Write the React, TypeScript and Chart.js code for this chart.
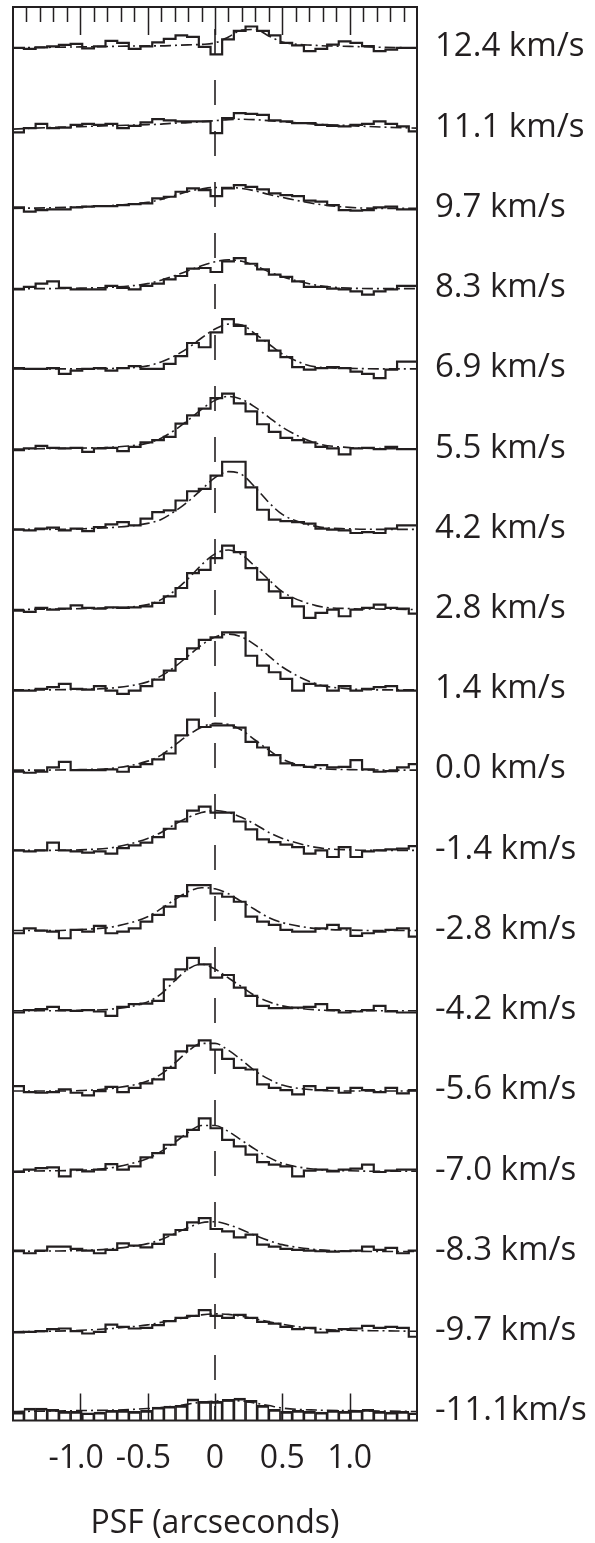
import React, { useEffect, useRef } from 'react';
import { Chart, registerables } from 'chart.js';

Chart.register(...registerables);

const INK = '#231f20';
const FONT = "'Open Sans'";

// Velocity channel labels, top to bottom
const velocityLabels = [
  '12.4 km/s', '11.1 km/s', '9.7 km/s', '8.3 km/s', '6.9 km/s', '5.5 km/s',
  '4.2 km/s', '2.8 km/s', '1.4 km/s', '0.0 km/s', '-1.4 km/s', '-2.8 km/s',
  '-4.2 km/s', '-5.6 km/s', '-7.0 km/s', '-8.3 km/s', '-9.7 km/s', '-11.1km/s',
];

// Bin edges of the spatial profiles (arcseconds)
const binEdges = [
  -1.505, -1.419, -1.332, -1.246, -1.159, -1.072, -0.986, -0.899, -0.813, -0.726,
  -0.640, -0.553, -0.466, -0.380, -0.293, -0.207, -0.120, -0.033, 0.053, 0.140,
  0.227, 0.313, 0.400, 0.486, 0.573, 0.660, 0.746, 0.833, 0.919, 1.006,
  1.092, 1.179, 1.266, 1.352, 1.439, 1.525,
];

// Sample positions of the fitted (dash-dot) profiles
const fitX = [-1.5, -1.25, -1.0, -0.75, -0.5, -0.4, -0.3, -0.2, -0.1, 0, 0.1, 0.2, 0.3, 0.4, 0.5, 0.75, 1.0, 1.25, 1.5];

// Measured profiles (relative flux per bin)
const flux12_4 = [0, -1, 0.5, 1.5, 3, 4, -0.5, 1.5, 7, 5, -1, 1.5, 5.5, 9, 12.5, 11, 1, -6.5, 8.5, 17, 21.5, 17, 12.5, 5, 2.5, -3.3, -1, 3.3, 6.5, 5, 1.7, -3.3, -1.7, 0, 0];
const flux11_1 = [-4.3, 0, 4.3, 0, 0.5, 3.3, 4.3, 3.3, 4.3, 0, 2.3, 5.7, 9, 7.7, 6.7, 6.7, 6.7, -5, 10, 15, 14.3, 13.3, 7.7, 6.7, 5, 5, 3.3, 2.3, 1.7, 3.3, 4.3, 6.7, 4.3, 1.7, -3.3];
const flux9_7 = [1, -3.3, -1.7, -1, -1, 1, 1.7, 2.3, 2.3, 3.3, 4.3, 5, 10, 11.7, 16.7, 20, 18.3, 12.3, 20, 23.3, 21.7, 19, 15, 13.3, 12.3, 7.7, 6.7, 3.3, -1.7, -2.3, -1.7, 1, 1.7, -1, -1];
const flux8_3 = [-0.7, 1.7, 5, 7.3, 0.7, -0.7, -0.7, -0.7, 2.7, 0.7, -0.7, 2.7, 5, 9.3, 12.7, 20, 20.7, 16.7, 27.3, 30.7, 25, 19.3, 14, 11.7, 7.3, 1.7, 1.7, 0, -0.7, -2.7, -6, -2.7, -0.7, 2.7, 2.7];
const flux6_9 = [0.7, 0, 0, 0.7, -5, -1.7, 0, 0.7, -1.7, 0.7, 2.7, 0, 0, 5, 12.7, 26, 21.7, 36.7, 50, 43.3, 35, 28.3, 18.3, 11.7, 1.7, -0.7, 0.7, 1.7, 0.7, -2.7, -5, -9.3, -0.7, 7.3, 7.3];
const flux5_5 = [-1, 0.7, 3.3, 1.3, 0.7, 1.3, -2.7, 0.7, 1.3, -2, 2.3, 6.7, 9, 12.3, 25.7, 34, 40.7, 51.3, 55.7, 46, 38, 25, 17.3, 11.3, 9, 6.7, 2.3, 0.7, -5.3, 0.7, 1.3, 0, 2.3, 0, 0];
const flux4_2 = [-0.3, -1, 0.7, 1.7, -1, 0.7, -1.7, 2.3, 5, 7.3, 4, 10.7, 17.3, 19, 29, 38.3, 40.7, 54, 68, 68, 42.3, 19.7, 9.7, 8.3, 7.3, 5.7, 0.7, -0.3, -1, -3.7, -2.7, -3.7, 0.7, 4, 4];
const flux2_8 = [-1, -2.3, 1.7, 0, 1, 4.3, 1.7, 1, 2.3, 1.7, 2.3, 3.3, 6.7, 13.3, 21.7, 36.7, 40, 51.7, 64.3, 57.7, 41.7, 30, 18.3, 11.7, 3.3, -8.3, -3.3, 0, -6.7, 0, 1.7, 5, 1.7, 1, -4];
const flux1_4 = [-0.7, -0.7, 1, 2.7, 6, 1, 0.3, 3.7, -0.7, -4, -0.7, 3.7, 10.3, 19.3, 31, 41.7, 50.3, 52.7, 57.7, 57.7, 34.3, 24.3, 17.7, 11, -0.7, 6, 4.3, -0.7, 3.7, -0.7, 1, 2.7, 3.7, -0.7, -0.7];
const flux0_0 = [-1.7, -2.7, -1.7, 2.7, 8.3, 0, 0, 0, 0.7, -1.7, 3.3, 6, 10.7, 16.7, 35, 50.7, 43.3, 45, 45, 42.7, 28.3, 22.7, 15, 6.7, 5, 3.3, 5, 2.7, 3.3, 10, 0.7, -1.7, -1, 2.7, 6];
const fluxM1_4 = [0, -1, 0, 7.7, 0, -1, -2.3, -1, -3.3, 2.3, 5, 7.7, 13.3, 21.7, 29, 40, 44, 38, 38, 29, 21, 11, 8.3, 5.7, 3.3, -3.3, 0, -6.7, 3.3, -6.7, -1, 0, 1, 1.7, 4.3];
const fluxM2_8 = [-2.7, 2.3, 0, -1, -7.7, 0.7, -1, 4.7, -2.7, -1, 2.3, 9, 15.7, 24, 34.7, 45.7, 45.7, 37.3, 34, 29, 14, 9, 5.7, 0.7, -1, -1, 2.3, 5.7, 2.3, -5.3, -2.7, -1, 0.7, 2.3, -6];
const fluxM4_2 = [-1.7, 0.7, 1.7, 4, 0.7, 0, 0.7, -0.7, -5, 4, 6.7, 7.3, 10, 31.7, 41.7, 53.3, 46.7, 33.3, 36, 23.3, 15, 5, 2.7, 2.7, 3.3, 4, 6.7, 0.7, -1.7, -0.7, 0.7, 5, -0.7, -1.7, -1.7];
const fluxM5_6 = [5, -1, -1.7, -1, 1.7, -1.7, -4.3, 0, 4.3, -1, 3.3, 7.7, 11.7, 23.3, 40, 45.7, 51, 41.7, 32.3, 23.3, 21.7, 6.7, 3.3, 1, -3.3, 5, 1, 3.3, -1.7, 3.3, 1, -1, 3.3, -2.3, 1];
const fluxM7_0 = [-0.7, 1.7, 3.3, 4, -5, 1.7, 0, 1.7, 7.3, 1.7, 5, 14, 18.3, 26.7, 35, 41.7, 53.3, 43.3, 31.7, 25, 16.7, 9.3, 6.7, 5, -5, 0.7, 1.7, 0, 1.7, 2.7, 6.7, -0.7, 0.7, 1.7, 1.7];
const fluxM8_3 = [1, -1.7, 1, 5, 5, 2.7, 1, -1.7, 1.7, 8.3, 6, 4.3, 7.7, 17, 21.7, 29.3, 33.7, 22.7, 20.3, 14.3, 17, 7, 5, 2.7, 1.7, 1, 0.3, 0, 0.3, 1, 5, 1.7, 3.7, -1.7, 1];
const fluxM9_7 = [-0.7, 0, 0.7, 2.7, 3.3, 0.7, -1.7, 0, 7.3, 5, 3.3, 4, 6.7, 10.7, 14, 16, 21.7, 16, 14, 17, 14, 10, 8.3, 5, 2.7, 4, -0.7, 0.7, 2.7, 3.3, 6, 4, 5, 4, -5];
const fluxM11_1 = [0, 4, 4, 2.7, 0.7, 0.7, -0.7, 0, 1.7, 1.7, 0.7, 1.7, 5, 6, 6.7, 13.3, 10.7, 10.7, 12.7, 14, 11.7, 6.7, 2.7, 0.7, 1.7, 0.7, 0, 1.7, 0.7, 1.7, 2.7, 0.7, 0, 0.7, -0.7];

// Fitted profiles sampled at fitX
const fit12_4 = [0, 0.5, 1, 1.5, 2, 2, 2.5, 3, 3.5, 5, 11, 18, 18.5, 12, 6, 2.5, 1.5, 0.5, 0];
const fit11_1 = [-1, 0.5, 1.5, 2.5, 3.5, 4, 5, 5.5, 6.5, 7.5, 8.5, 9, 8.5, 7.5, 6.5, 4, 2.5, 1, 0];
const fit9_7 = [0, 0.5, 1.5, 3, 6, 9, 13, 17, 19.5, 21, 21, 20, 17.5, 14, 11, 4.5, 1, 0, 0];
const fit8_3 = [0, 0, 0.5, 1.5, 5, 8.5, 13, 18, 23, 27, 29, 27.5, 23, 17, 12, 3.5, 0.5, 0, 0];
const fit6_9 = [0, 0, 0, 0.5, 3, 7, 13, 21, 31, 40, 45, 44, 35, 25, 15, 2, 0.5, 0, 0];
const fit5_5 = [0, 0.5, 1, 2, 6, 11, 19, 29, 40, 49, 53, 50, 42, 32, 22, 6, 1.5, 0.5, 0];
const fit4_2 = [0, 0, 0.5, 2, 6, 10, 18, 28, 40, 52, 58, 55, 42, 27, 15, 3, 0.5, 0, 0];
const fit2_8 = [0, 0.5, 1, 2, 5, 10, 19, 31, 45, 56, 60, 55, 43, 30, 18, 4, 1, 0.5, 0];
const fit1_4 = [0, 0, 0.5, 2, 8, 14, 23, 34, 45, 53, 56, 53, 45, 34, 23, 6, 1, 0, 0];
const fit0_0 = [0, 0, 0.5, 2, 9, 15, 25, 35, 43, 47, 46, 40, 30, 20, 11, 2, 0.5, 0, 0];
const fitM1_4 = [0, 0, 0.5, 3, 12, 18, 26, 33, 38, 40, 38, 33, 26, 18, 12, 3, 0.5, 0, 0];
const fitM2_8 = [0, 0, 1, 4, 14, 22, 31, 39, 43, 42, 37, 29, 21, 13, 8, 2, 0.5, 0, 0];
const fitM4_2 = [0, 0, 0.5, 2, 9, 17, 30, 42, 47, 42, 33, 24, 15, 9, 5, 1, 0, 0, 0];
const fitM5_6 = [0, 0, 0.5, 3, 10, 17, 28, 40, 48, 48, 41, 31, 20, 12, 6, 1, 0, 0, 0];
const fitM7_0 = [0, 0.5, 1, 4, 13, 20, 29, 39, 46, 46, 40, 31, 22, 14, 8, 2, 0.5, 0, 0];
const fitM8_3 = [0, 0.5, 1, 3, 8, 12, 18, 24, 29, 30, 27, 22, 16, 11, 7, 2, 0.5, 0, 0];
const fitM9_7 = [0, 0.5, 1.5, 3.5, 7, 9.5, 12, 15, 17, 18, 17.5, 15.5, 13, 10, 7.5, 3, 1.5, 1, 0.5];
const fitM11_1 = [0.5, 1, 1.5, 2, 3.5, 4.5, 6, 8, 10, 11, 11.5, 11, 9, 6.5, 4, 2, 1.5, 1, 0.5];

const fluxProfiles = [flux12_4, flux11_1, flux9_7, flux8_3, flux6_9, flux5_5, flux4_2, flux2_8, flux1_4, flux0_0, fluxM1_4, fluxM2_8, fluxM4_2, fluxM5_6, fluxM7_0, fluxM8_3, fluxM9_7, fluxM11_1];
const fitProfiles = [fit12_4, fit11_1, fit9_7, fit8_3, fit6_9, fit5_5, fit4_2, fit2_8, fit1_4, fit0_0, fitM1_4, fitM2_8, fitM4_2, fitM5_6, fitM7_0, fitM8_3, fitM9_7, fitM11_1];

// Axis ticks
const xTickValues = [-1, -0.5, 0, 0.5, 1];
const xTickLabels = ['-1.0 ', '-0.5 ', '0', '0.5', '1.0'];
const xMinorTickValues = [-1.4, -1.3, -1.2, -1.1, -0.9, -0.8, -0.7, -0.6, -0.4, -0.3, -0.2, -0.1, 0.1, 0.2, 0.3, 0.4, 0.6, 0.7, 0.8, 0.9, 1.1, 1.2, 1.3, 1.4];

const PROFILE_SPACING = 80.7;
const Y_MIN = -8.5;
const Y_MAX = 1413;

const framePlugin = {
  id: 'frameTicksLabels',
  afterDatasetsDraw(chart: any) {
    const { ctx, chartArea, scales } = chart;
    const xs = scales.x;
    const ys = scales.y;
    const { left, right, top, bottom } = chartArea;
    ctx.save();
    ctx.strokeStyle = INK;
    ctx.lineWidth = 1.5;
    ctx.beginPath();
    xTickValues.forEach((v) => {
      const px = Math.round(xs.getPixelForValue(v)) + 0.5;
      ctx.moveTo(px, top);
      ctx.lineTo(px, top + 28);
      ctx.moveTo(px, bottom);
      ctx.lineTo(px, bottom - 27);
    });
    xMinorTickValues.forEach((v) => {
      const px = Math.round(xs.getPixelForValue(v)) + 0.5;
      ctx.moveTo(px, top);
      ctx.lineTo(px, top + 15);
    });
    ctx.stroke();
    ctx.lineWidth = 2;
    ctx.strokeRect(left, top, right - left, bottom - top);
    ctx.fillStyle = INK;
    ctx.font = `33px ${FONT}`;
    ctx.textAlign = 'left';
    ctx.textBaseline = 'middle';
    const n = velocityLabels.length;
    velocityLabels.forEach((lab, i) => {
      const base = ys.getPixelForValue((n - 1 - i) * PROFILE_SPACING);
      ctx.fillText(lab, right + 18, base - 1);
    });
    ctx.restore();
  },
};

export default function App() {
  const ref = useRef<HTMLCanvasElement | null>(null);

  useEffect(() => {
    if (!ref.current) return;
    const n = fluxProfiles.length;
    const datasets: any[] = [];

    fluxProfiles.forEach((vals, i) => {
      const off = (n - 1 - i) * PROFILE_SPACING;
      const fit = fitProfiles[i];
      datasets.push({
        type: 'line',
        data: fitX.map((x, j) => ({ x, y: off + fit[j] })),
        borderColor: INK,
        borderWidth: 1.6,
        borderDash: [11, 4, 2, 4],
        pointRadius: 0,
        cubicInterpolationMode: 'monotone',
        fill: false,
      });
      if (i === n - 1) {
        datasets.push({
          type: 'bar',
          data: vals.map((v, j) => ({ x: (binEdges[j] + binEdges[j + 1]) / 2, y: off + v })),
          base: Y_MIN,
          borderColor: INK,
          backgroundColor: 'rgba(0,0,0,0)',
          borderWidth: { top: 2, left: 1, right: 1, bottom: 0 },
          borderSkipped: 'start',
          barPercentage: 1,
          categoryPercentage: 1,
        });
      } else {
        datasets.push({
          type: 'line',
          data: binEdges.map((x, j) => ({ x, y: off + vals[Math.min(j, vals.length - 1)] })),
          borderColor: INK,
          borderWidth: 2.2,
          stepped: true,
          pointRadius: 0,
          fill: false,
        });
      }
    });

    datasets.push({
      type: 'line',
      data: [{ x: 0, y: Y_MAX }, { x: 0, y: Y_MIN }],
      borderColor: INK,
      borderWidth: 1.6,
      borderDash: [25, 26],
      borderDashOffset: 29,
      pointRadius: 0,
      fill: false,
    });

    const chart = new Chart(ref.current, {
      type: 'line',
      data: { datasets },
      options: {
        responsive: false,
        animation: false,
        devicePixelRatio: 1,
        events: [],
        layout: { padding: { left: 13, right: 178, top: 7, bottom: 0 } },
        plugins: { legend: { display: false }, tooltip: { enabled: false } },
        scales: {
          x: {
            type: 'linear',
            min: -1.5,
            max: 1.5,
            offset: false,
            grid: { display: false },
            border: { display: false },
            afterBuildTicks: (s: any) => {
              s.ticks = xTickValues.map((v) => ({ value: v }));
            },
            ticks: {
              callback: (_v: any, idx: number) => xTickLabels[idx],
              font: { family: FONT, size: 32 },
              color: INK,
              padding: 11,
              maxRotation: 0,
              autoSkip: false,
            },
            title: {
              display: true,
              text: 'PSF (arcseconds)',
              font: { family: FONT, size: 32 },
              color: INK,
              padding: { top: 15.7, bottom: 0 },
            },
          },
          y: { type: 'linear', display: false, min: Y_MIN, max: Y_MAX },
        },
      } as any,
      plugins: [framePlugin],
    });
    return () => chart.destroy();
  }, []);

  return (
    <div style={{ position: 'absolute', left: 0, top: 0, width: 595, height: 1543, background: '#fff' }}>
      <canvas ref={ref} width={595} height={1543} style={{ display: 'block' }} />
    </div>
  );
}
